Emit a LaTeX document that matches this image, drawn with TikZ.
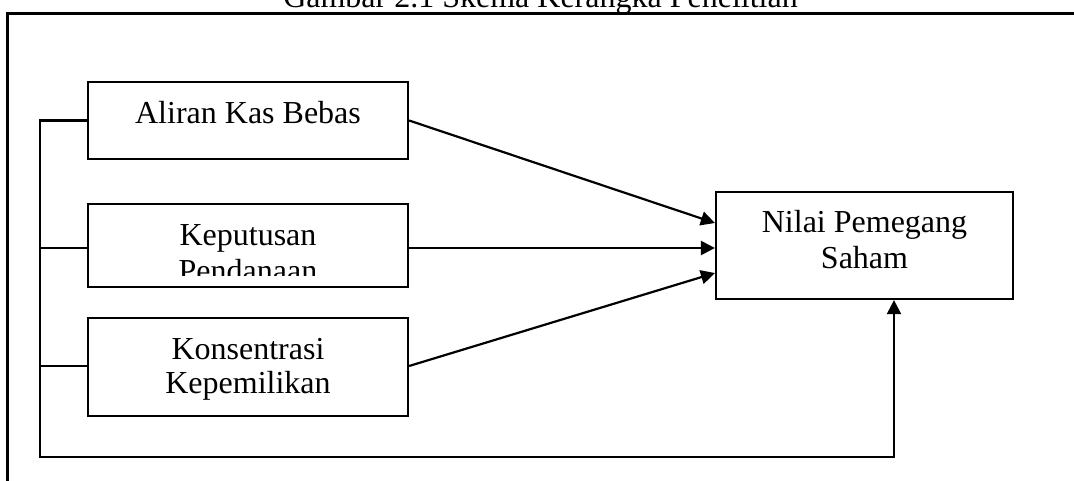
\documentclass[tikz,border=0pt]{standalone}
\usepackage{fontspec}
\setmainfont{Liberation Serif}
\usetikzlibrary{arrows.meta,calc}
\begin{document}
\begin{tikzpicture}[x=1pt,y=-1pt,
  boxnode/.style={draw,line width=2.2pt,rectangle,inner sep=0pt},
  lbl/.style={inner sep=0pt,anchor=base,font=\fontsize{32}{36}\selectfont},
  conn/.style={line width=2.2pt},
  arr/.style={line width=2.2pt,-{Triangle[length=14pt,width=14pt]}},
  frameline/.style={line width=3pt}]
\useasboundingbox (0,0) rectangle (1074,480);
% title
\node[lbl] (title) at (540.5,7) {Gambar 2.1 Skema Kerangka Penelitian};
% frame
\coordinate (fa) at (1090,13);
\coordinate (fb) at (7,13);
\coordinate (fc) at (7,495);
\draw[frameline] (fa) -- (fb) -- (fc);
% boxes
\node[boxnode,minimum width=320pt,minimum height=77pt] (b1) at (248,120.5) {};
\node[boxnode,minimum width=320pt,minimum height=83pt] (b2) at (248,245.5) {};
\node[boxnode,minimum width=320pt,minimum height=98pt] (b3) at (248,367) {};
\node[boxnode,minimum width=297pt,minimum height=107pt] (t) at (864.5,245.5) {};
% labels
\node[lbl] (l1) at (248,123) {Aliran Kas Bebas};
\node[lbl] (l2a) at (248,245) {Keputusan};
\begin{scope}
\clip (89,206) rectangle (407,275);
\node[lbl] (l2b) at (248,281) {Pendanaan};
\end{scope}
\node[lbl] (l3a) at (248,359) {Konsentrasi};
\node[lbl] (l3b) at (248,393) {Kepemilikan};
\node[lbl] (l4a) at (864.5,232) {Nilai Pemegang};
\node[lbl] (l4b) at (864.5,268) {Saham};
% arrows to target
\draw[arr] (b1.east) -- ($(t.west)+(0,-22.5)$);
\draw[arr] ($(b2.east)+(0,2.5)$) -- ($(t.west)+(0,2.5)$);
\draw[arr] ($(b3.east)+(0,-1)$) -- ($(t.west)+(0,27.5)$);
% left bus
\coordinate (bus1) at (40,120.5);
\coordinate (bus2) at (40,248);
\coordinate (bus3) at (40,366);
\coordinate (busb) at (40,457);
\coordinate (busr) at (894,457);
\draw[conn] (bus2) -- ($(b2.west)+(0,2.5)$);
\draw[conn] (bus3) -- ($(b3.west)+(0,-1)$);
\draw[arr] (b1.west) -- (bus1) -- (busb) -- (busr) -- (busr |- t.south);
\end{tikzpicture}
\end{document}
